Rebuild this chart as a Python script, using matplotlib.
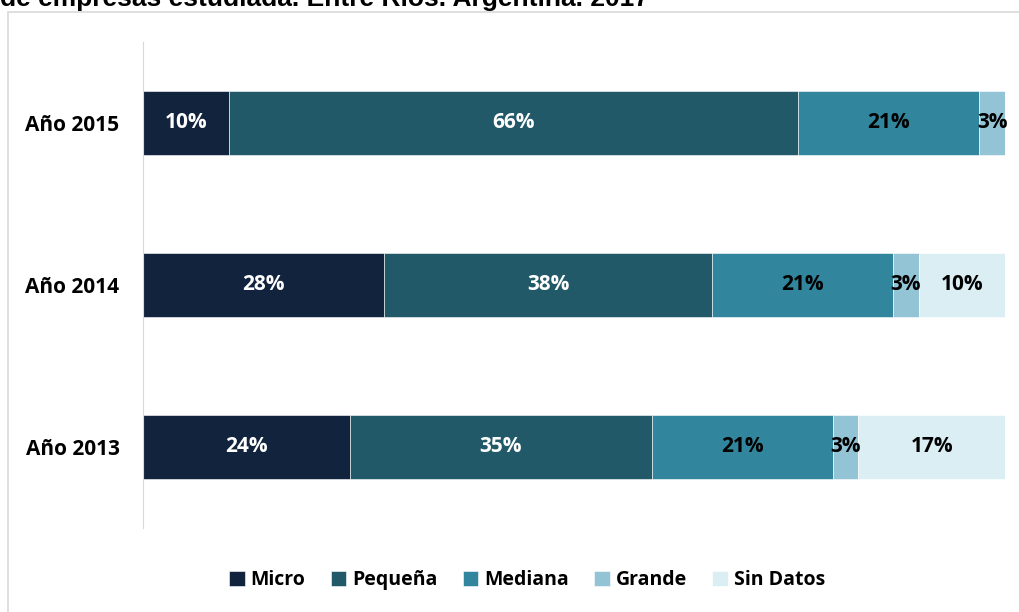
import matplotlib.pyplot as plt
from matplotlib.patches import Rectangle

plt.rcParams['font.family'] = ['Open Sans', 'DejaVu Sans']

years = ['Año 2013', 'Año 2014', 'Año 2015']
categories = ['Micro', 'Pequeña', 'Mediana', 'Grande', 'Sin Datos']
micro = [24, 28, 10]
pequena = [35, 38, 66]
mediana = [21, 21, 21]
grande = [3, 3, 3]
sin_datos = [17, 10, 0]

colors = ['#12233D', '#215968', '#31859C', '#93C4D6', '#DAEEF3']
label_colors = ['white', 'white', 'black', 'black', 'black']
series = [micro, pequena, mediana, grande, sin_datos]

fig = plt.figure(figsize=(10.19, 6.12), dpi=100)
ax = fig.add_axes([143 / 1019, 1 - 528 / 612, (1005 - 143) / 1019, 486 / 612])

# outer chart frame
fig.patches.append(Rectangle((8 / 1019, -0.1), 1.2, 1 - 12 / 612 + 0.1,
                             transform=fig.transFigure, fill=False,
                             edgecolor='#D9D9D9', linewidth=1.2))

# title, cut off at the top as in the source
fig.text(0.0, 1 - 6 / 612, 'de empresas estudiada. Entre Ríos. Argentina. 2017',
         fontsize=19, fontweight='bold', family=['Liberation Sans', 'DejaVu Sans'],
         ha='left', va='baseline')

ypos = range(len(years))
left = [0] * len(years)
for name, vals, col, lc in zip(categories, series, colors, label_colors):
    ax.barh(ypos, vals, left=left, height=0.4, color=col, label=name,
            edgecolor='white', linewidth=0.4)
    for y, v, l in zip(ypos, vals, left):
        if v > 0:
            ax.text(l + v / 2, y, f'{v}%', ha='center', va='center',
                    color=lc, fontsize=15, fontweight='bold')
    left = [a + b for a, b in zip(left, vals)]

ax.set_xlim(0, 100)
ax.set_ylim(-0.5, 2.5)
ax.set_yticks(list(ypos))
ax.set_yticklabels(years, fontsize=15, fontweight='bold')
ax.tick_params(axis='y', length=0, pad=17)
ax.set_xticks([])
for s in ['top', 'right', 'bottom']:
    ax.spines[s].set_visible(False)
ax.spines['left'].set_color('#D9D9D9')

fig.legend(loc='center', bbox_to_anchor=(527 / 1019, 1 - 580 / 612), ncol=5,
           frameon=False, prop={'size': 14, 'weight': 'bold'},
           handlelength=0.8, handleheight=0.8, handletextpad=0.3,
           columnspacing=1.3)

fig.savefig('out.png', dpi=100)
